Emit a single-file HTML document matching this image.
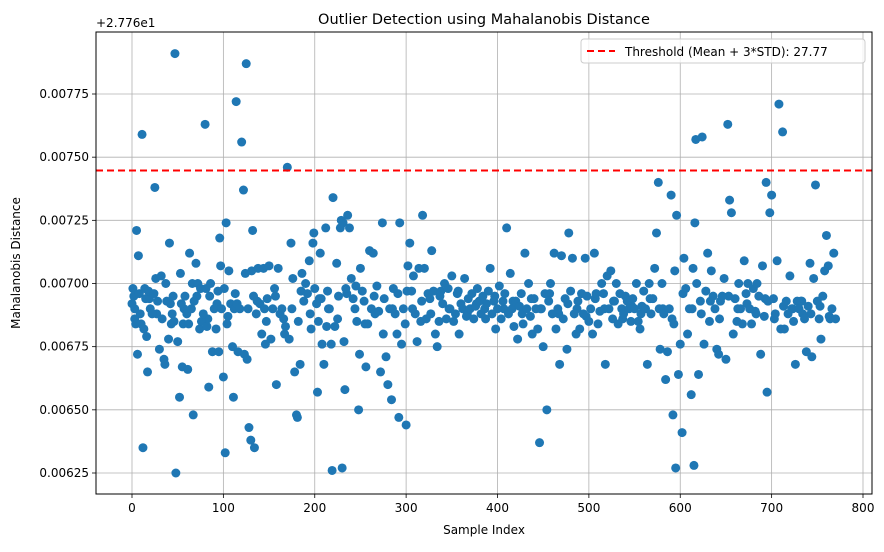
<!DOCTYPE html>
<html><head><meta charset="utf-8"><style>
body{margin:0;background:#fff;}
svg text{font-family:"DejaVu Sans","Liberation Sans",sans-serif;fill:#000;}
</style></head><body>
<svg id="chart" width="884" height="547" viewBox="0 0 884 547" xmlns="http://www.w3.org/2000/svg">
<rect width="884" height="547" fill="#fff"/>
<text x="484" y="24" font-size="14.5" text-anchor="middle">Outlier Detection using Mahalanobis Distance</text>
<text x="96" y="27" font-size="12">+2.776e1</text>
<g id="grid"></g>
<g id="ticks"></g>
<g id="points"></g>
<line id="thr" x1="96" x2="872" stroke="#ff0000" stroke-width="2" stroke-dasharray="7,4"/>
<rect x="96" y="32" width="776" height="462" fill="none" stroke="#000" stroke-width="1"/>
<text x="484" y="534" font-size="12" text-anchor="middle">Sample Index</text>
<text x="20" y="263" font-size="12" text-anchor="middle" transform="rotate(-90 20 263)">Mahalanobis Distance</text>
<g>
<rect x="581" y="39" width="284" height="24" rx="3" fill="#fff" fill-opacity="0.8" stroke="#ccc"/>
<line x1="587" x2="615" y1="51" y2="51" stroke="#ff0000" stroke-width="2" stroke-dasharray="7,4"/>
<text x="625" y="56" font-size="12">Threshold (Mean + 3*STD): 27.77</text>
</g>
</svg>
<script>
const xTicks=[0,100,200,300,400,500,600,700,800];
const yTicks=[0.00625,0.0065,0.00675,0.007,0.00725,0.0075,0.00775];
const yTickLabels=["0.00625","0.00650","0.00675","0.00700","0.00725","0.00750","0.00775"];
const threshold=0.007447;
const sampleIdx=[0,1,2,3,4,5,6,7,8,9,10,11,12,13,14,15,16,17,18,20,22,24,25,26,28,30,32,33,35,36,38,40,41,42,44,45,46,47,48,50,52,53,54,55,56,58,60,61,62,63,65,66,67,68,70,72,74,75,76,78,80,81,82,84,85,86,88,90,92,94,95,96,97,98,100,101,102,103,104,106,108,110,111,112,114,115,116,118,120,122,123,124,125,126,128,130,131,132,133,134,136,138,140,142,144,145,146,148,150,152,154,156,158,160,162,164,166,168,170,172,174,176,178,180,181,182,184,186,188,190,192,194,196,198,199,200,202,203,204,206,207,208,210,212,213,214,216,218,219,220,222,224,226,228,229,230,231,232,233,234,236,238,240,242,244,246,248,249,250,252,254,256,258,260,262,264,266,268,270,272,274,276,278,280,282,284,286,288,290,292,293,295,297,300,301,302,304,306,308,310,312,314,316,318,320,322,324,326,328,330,332,334,336,338,340,342,344,346,348,350,352,354,356,358,360,362,364,366,368,370,372,374,376,378,380,382,384,386,388,390,392,394,396,398,400,402,404,406,408,410,412,414,416,418,420,422,424,426,428,430,432,434,436,438,440,442,444,446,448,450,452,454,456,458,460,462,464,466,468,470,472,474,476,478,480,482,484,486,488,490,492,494,496,498,500,502,504,506,508,510,512,514,516,518,520,522,524,526,528,530,532,534,536,538,540,542,544,546,548,550,552,554,556,558,560,562,564,566,568,570,572,574,576,577,578,580,582,584,586,588,590,591,592,594,595,596,598,600,602,604,606,608,610,612,614,615,616,617,618,620,622,624,626,628,630,632,634,636,638,640,642,644,646,648,650,652,654,656,658,660,662,664,666,668,670,672,674,676,678,680,682,684,686,688,690,692,694,695,696,698,700,702,704,706,708,710,712,714,716,718,720,722,724,726,728,730,732,734,736,738,740,742,744,746,748,750,752,754,756,758,760,762,764,766,768,770];
const distance=[692,698,695,686,684,721,672,711,696,688,684,759,635,682,698,694,679,665,697,690,688,696,738,702,693,674,703,686,670,668,693,678,716,692,688,695,685,791,625,677,655,704,692,667,684,695,688,666,684,712,690,700,648,693,708,700,682,698,685,688,763,698,683,659,695,700,673,690,682,697,673,718,707,690,663,698,633,724,684,705,692,675,655,690,772,692,673,690,756,737,672,704,787,670,643,638,705,721,695,635,688,706,692,680,706,690,676,694,707,678,690,698,660,706,688,690,686,683,746,678,716,702,665,648,647,685,668,704,693,700,696,709,682,716,720,698,692,657,685,712,694,676,668,722,683,697,690,676,626,734,683,708,695,722,725,627,724,677,658,698,727,722,702,694,690,685,650,672,706,697,693,667,684,713,690,712,688,699,689,665,724,694,671,660,690,654,698,688,680,647,724,676,690,644,697,707,716,697,703,688,677,706,685,727,706,686,696,694,713,697,680,675,685,697,692,700,686,698,690,703,685,688,696,680,692,690,702,687,694,690,696,686,691,698,693,688,695,690,692,697,706,688,693,682,690,699,686,693,696,722,688,704,690,683,693,678,691,696,684,712,690,700,687,680,694,690,682,637,690,675,696,650,693,700,688,712,682,690,668,711,686,694,674,720,697,710,688,680,693,682,696,688,710,695,685,690,680,712,696,684,689,700,696,668,703,690,705,686,693,700,684,696,690,688,695,693,690,685,694,690,700,685,682,691,697,690,668,700,688,694,706,720,740,690,674,700,688,662,673,690,735,686,648,705,627,727,664,676,641,710,698,680,690,656,706,628,724,757,700,664,693,758,676,697,712,685,705,695,690,674,672,693,695,702,670,763,733,728,680,694,685,700,690,684,709,696,700,690,684,698,689,700,695,672,707,687,740,657,693,728,735,694,688,709,771,682,760,682,693,688,703,690,685,668,693,690,693,688,686,673,691,708,671,702,739,693,686,678,695,705,719,707,686,690,712,686];
const fillIdx=[3,19,27,37,43,57,71,83,93,105,113,127,137,147,157,167,175,185,195,205,215,225,235,245,255,265,275,285,291,299,307,317,327,337,347,357,367,377,387,397,407,417,427,437,447,457,467,477,487,497,507,517,527,537,547,557,567,581,593,603,613,623,633,643,653,663,673,683,693,703,713,723,733,743,753,763];
const fillDist=[690,694,688,700,684,690,695,686,692,687,696,690,693,685,695,680,690,697,688,694,690,686,696,699,684,695,680,690,696,684,690,693,688,695,690,697,688,692,686,695,690,693,688,694,690,696,688,692,690,687,694,690,693,686,691,688,694,690,684,696,690,688,693,686,695,690,692,688,694,686,691,690,693,688,691,687];

const X0=96,X1=872,Y0=32,Y1=494;
const xMin=-41.5,xMax=806.5,yMin=0.006081,yMax=0.008;
function sx(v){return 132+(v-0)*(863-132)/800;}
function sy(v){return 473-(v-0.00625)*(473-94)/0.0015;}
const NS="http://www.w3.org/2000/svg";
function mk(tag,attrs,parent){const e=document.createElementNS(NS,tag);for(const k in attrs)e.setAttribute(k,attrs[k]);parent.appendChild(e);return e;}
const grid=document.getElementById('grid'),ticks=document.getElementById('ticks'),pts=document.getElementById('points');
xTicks.forEach(t=>{const x=sx(t);
 const g=mk('line',{x1:x,x2:x,y1:Y0,y2:Y1,stroke:'#b0b0b0','stroke-width':0.8},grid);
 
 
 const tk=mk('line',{x1:x,x2:x,y1:Y1,y2:Y1+4,stroke:'#000','stroke-width':0.8},ticks);
 
 
 const tx=mk('text',{x:x,y:Y1+18,'font-size':12,'text-anchor':'middle'},ticks);tx.textContent=t;
 
 
});
yTicks.forEach((t,i)=>{const y=sy(t);
 const g=mk('line',{x1:X0,x2:X1,y1:y,y2:y,stroke:'#b0b0b0','stroke-width':0.8},grid);
 
 
 const tk=mk('line',{x1:X0-4,x2:X0,y1:y,y2:y,stroke:'#000','stroke-width':0.8},ticks);
 
 
 const tx=mk('text',{x:X0-7,y:y+4,'font-size':12,'text-anchor':'end'},ticks);tx.textContent=yTickLabels[i];
 
 
});
function plot(ix,ds){ix.forEach((s,i)=>{
 const c=mk('circle',{cx:sx(s),cy:sy(ds[i]/100000),r:4.5,fill:'#1f77b4'},pts);
 
 
});}
plot(fillIdx,fillDist);
plot(sampleIdx,distance);
const th=document.getElementById('thr');th.setAttribute('y1',sy(threshold));th.setAttribute('y2',sy(threshold));
</script>
</body></html>
